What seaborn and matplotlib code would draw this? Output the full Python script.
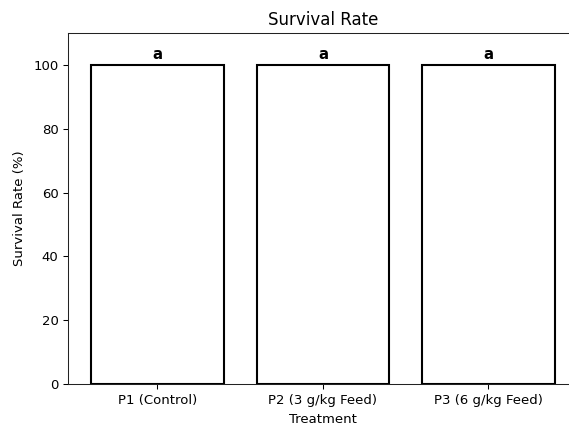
import matplotlib
matplotlib.use("Agg")
import matplotlib.pyplot as plt
import seaborn as sns
import pandas as pd

treatments = ["P1 (Control)", "P2 (3 g/kg Feed)", "P3 (6 g/kg Feed)"]
survival = [100, 100, 100]
letters = ["a", "a", "a"]

plt.rcParams["font.family"] = ["DejaVu Sans"]
plt.rcParams["font.size"] = 9.5

df = pd.DataFrame({"Treatment": treatments, "Survival": survival})

fig = plt.figure(figsize=(5.69, 4.25), dpi=100)
ax = fig.add_axes([0.1195, 0.0965, 0.896, 0.8255])
sns.barplot(data=df, x="Treatment", y="Survival", color="white",
            edgecolor="black", linewidth=1.5, width=0.8, ax=ax, errorbar=None)
for i, (v, l) in enumerate(zip(survival, letters)):
    ax.text(i, v + 0.8, l, ha="center", va="bottom", fontweight="bold", fontsize=10.8)

ax.set_xlim(-0.54, 2.54)
ax.set_ylim(0, 110)
ax.set_title("Survival Rate", fontsize=12)
ax.set_xlabel("Treatment", fontsize=9.5, labelpad=4.5)
ax.set_ylabel("Survival Rate (%)", fontsize=9.5, labelpad=5)
ax.tick_params(length=3.4, width=0.75, labelsize=9.5)
for s in ax.spines.values():
    s.set_linewidth(0.75)
    s.set_color("#222222")

fig.savefig("out.png", dpi=100)
